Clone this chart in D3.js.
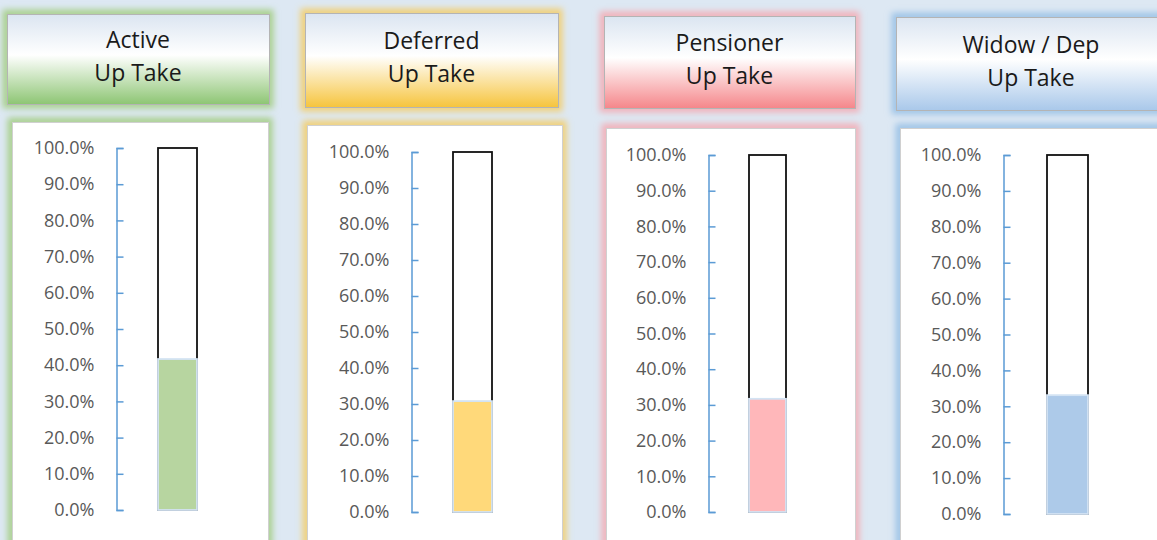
<!DOCTYPE html>
<html>
<head>
<meta charset="utf-8">
<script src="https://cdn.jsdelivr.net/npm/d3@7"></script>
<style>
  body { margin: 0; background: #dde8f3; overflow: hidden; }
  svg { display: block; }
</style>
</head>
<body>
<div id="chart"></div>
<script>
// Data
const categories = ['Active', 'Deferred', 'Pensioner', 'Widow / Dep']
const subtitle = 'Up Take'
const upTake = [0.417, 0.308, 0.317, 0.331]
const tickValues = [0, 0.1, 0.2, 0.3, 0.4, 0.5, 0.6, 0.7, 0.8, 0.9, 1.0]

// Styles per panel
const glowColors = ['#a9d08e', '#f1d077', '#f2b1b9', '#9fc4e7']
const gradBottom = ['#8dc573', '#f6c43c', '#f5868a', '#a9c8ea']
const fillColors = ['#b7d5a0', '#ffd97a', '#ffb7ba', '#adcae9']

// Layout
const layout = [
  { title: [7, 14, 262, 90],   box: [12, 122, 256, 440],  axisX: 116, y0: 510, y1: 148, bar: [158, 197] },
  { title: [305, 13, 253, 94], box: [307, 125, 255, 440], axisX: 411, y0: 512, y1: 152, bar: [453, 492] },
  { title: [604, 16, 251, 92], box: [606, 128, 249, 440], axisX: 708, y0: 512, y1: 155, bar: [749, 786] },
  { title: [896, 17, 270, 93], box: [900, 128, 270, 440], axisX: 1003, y0: 514, y1: 155, bar: [1047, 1088] },
]

const width = 1157
const height = 540

const svg = d3.select('#chart')
  .append('svg')
  .attr('width', width)
  .attr('height', height)

svg.append('rect')
  .attr('width', width)
  .attr('height', height)
  .attr('fill', '#dde8f3')

const defs = svg.append('defs')
defs.append('filter')
  .attr('id', 'glow')
  .attr('x', '-20%').attr('y', '-20%')
  .attr('width', '140%').attr('height', '140%')
  .append('feGaussianBlur')
  .attr('stdDeviation', 3)

categories.forEach((cat, i) => {
  const L = layout[i]
  const g = svg.append('g')

  // gradient for the title box
  const grad = defs.append('linearGradient')
    .attr('id', 'grad' + i)
    .attr('x1', 0).attr('y1', 0).attr('x2', 0).attr('y2', 1)
  grad.append('stop').attr('offset', '0%').attr('stop-color', '#dbe5f1')
  grad.append('stop').attr('offset', '45%').attr('stop-color', '#ffffff')
  grad.append('stop').attr('offset', '100%').attr('stop-color', gradBottom[i])

  // glows
  ;[L.title, L.box].forEach(r => {
    g.append('rect')
      .attr('x', r[0]).attr('y', r[1])
      .attr('width', r[2]).attr('height', r[3])
      .attr('fill', 'none')
      .attr('stroke', glowColors[i])
      .attr('stroke-width', 9)
      .attr('filter', 'url(#glow)')
  })

  // title box
  g.append('rect')
    .attr('x', L.title[0] + 0.5).attr('y', L.title[1] + 0.5)
    .attr('width', L.title[2]).attr('height', L.title[3])
    .attr('fill', `url(#grad${i})`)
    .attr('stroke', '#b4b4b4')

  const cx = L.title[0] + L.title[2] / 2
  const cy = L.title[1] + L.title[3] / 2
  const title = g.append('text')
    .attr('text-anchor', 'middle')
    .style('font-family', '"Open Sans", sans-serif')
    .style('font-size', '23px')
    .attr('fill', '#1a1a1a')
  title.append('tspan').attr('x', cx).attr('y', cy - 11).text(cat)
  title.append('tspan').attr('x', cx).attr('y', cy + 22).text(subtitle)

  // chart box
  g.append('rect')
    .attr('x', L.box[0] + 0.5).attr('y', L.box[1] + 0.5)
    .attr('width', L.box[2]).attr('height', L.box[3])
    .attr('fill', '#ffffff')
    .attr('stroke', '#d0d0d0')

  // Scales
  const yScale = d3.scaleLinear()
    .domain([0, 1])
    .range([L.y0, L.y1])

  // Axis
  const yAxis = d3.axisLeft(yScale)
    .tickValues(tickValues)
    .tickFormat(d3.format('.1%'))
    .tickSizeInner(-7)
    .tickSizeOuter(-7)
    .tickPadding(22)

  const axisGroup = g.append('g')
    .attr('transform', `translate(${L.axisX + 0.5}, 0)`)
    .call(yAxis)
  axisGroup.selectAll('path, line')
    .attr('stroke', '#5b9bd5')
    .attr('stroke-width', 1.5)
  axisGroup.selectAll('text')
    .attr('fill', '#595959')
    .style('font-family', '"Open Sans", sans-serif')
    .style('font-size', '18px')

  // thermometer tube
  const bx = L.bar[0]
  const bw = L.bar[1] - L.bar[0]
  g.append('rect')
    .attr('x', bx).attr('y', yScale(1))
    .attr('width', bw).attr('height', yScale(0) - yScale(1))
    .attr('fill', '#ffffff')
    .attr('stroke', '#111111')
    .attr('stroke-width', 1.8)

  g.append('rect')
    .attr('x', bx).attr('y', yScale(upTake[i]))
    .attr('width', bw).attr('height', yScale(0) - yScale(upTake[i]))
    .attr('fill', fillColors[i])
    .attr('stroke', '#d3e3f3')
    .attr('stroke-width', 1.8)
})
</script>
</body>
</html>
